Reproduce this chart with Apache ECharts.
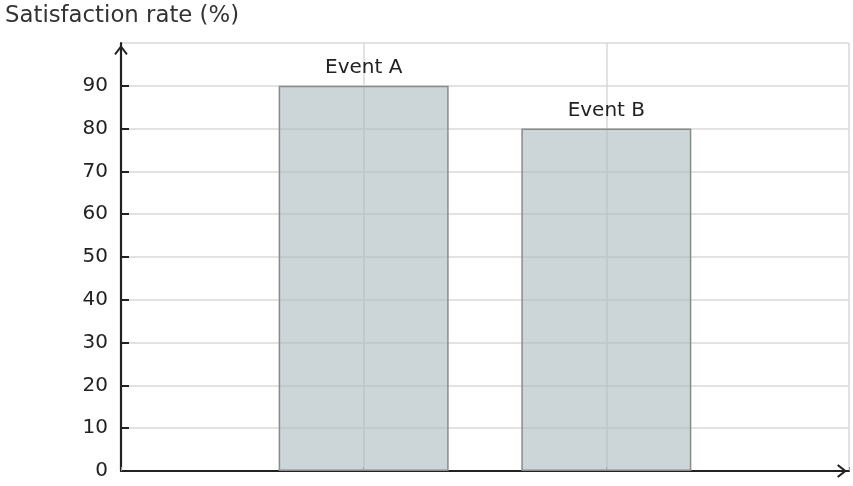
<!DOCTYPE html>
<html>
<head>
<meta charset="utf-8">
<script src="https://cdn.jsdelivr.net/npm/echarts@6/dist/echarts.min.js"></script>
<style>html,body{margin:0;padding:0;background:#fff;}#c{width:853px;height:486px;}</style>
</head>
<body>
<div id="c"></div>
<script>
var categories = ['Event A', 'Event B'];
var positions = [1, 2];
var values = [90, 80];
var yName = 'Satisfaction rate (%)';

var chart = echarts.init(document.getElementById('c'));
var font = 'DejaVu Sans';
var chevron = 'path://M7,0 L14,9 L12.4,10.4 L7,3.4 L1.6,10.4 L0,9 Z';
chart.setOption({
  animation: false,
  textStyle: { fontFamily: font },
  title: {
    text: yName, left: 0, top: 0,
    textStyle: { fontFamily: font, fontSize: 22.8, fontWeight: 'normal', color: '#333' }
  },
  grid: { left: 121, right: 4, top: 43, bottom: 15, containLabel: false },
  xAxis: {
    type: 'value', min: 0, max: 3, interval: 1,
    axisLine: { show: true, symbol: ['none', chevron], symbolSize: [14, 10], symbolOffset: [0, -7], lineStyle: { color: '#222', width: 2.2 } },
    axisTick: { show: true, inside: true, length: 4, lineStyle: { color: '#999' } },
    axisLabel: { show: false },
    splitLine: { show: true, lineStyle: { color: '#d9d9d9', width: 1.5 } }
  },
  yAxis: {
    type: 'value', min: 0, max: 100, interval: 10,
    axisLine: { show: true, symbol: ['none', chevron], symbolSize: [14, 10], symbolOffset: [0, -7], lineStyle: { color: '#222', width: 2.2 } },
    axisTick: { show: true, inside: true, length: 8, lineStyle: { color: '#222', width: 2 } },
    axisLabel: { showMaxLabel: false, fontSize: 20, color: '#222', margin: 13, fontFamily: font },
    splitLine: { show: true, lineStyle: { color: '#d9d9d9', width: 1.5 } }
  },
  series: [{
    type: 'bar',
    barWidth: 170,
    data: positions.map(function (p, i) { return { value: [p, values[i]], name: categories[i] }; }),
    itemStyle: { color: 'rgba(170,185,190,0.6)', borderColor: '#8a8a8a', borderWidth: 1.5 },
    label: { show: true, position: 'top', distance: 8, formatter: '{b}', fontSize: 20, color: '#222', fontFamily: font }
  }]
});
</script>
</body>
</html>
